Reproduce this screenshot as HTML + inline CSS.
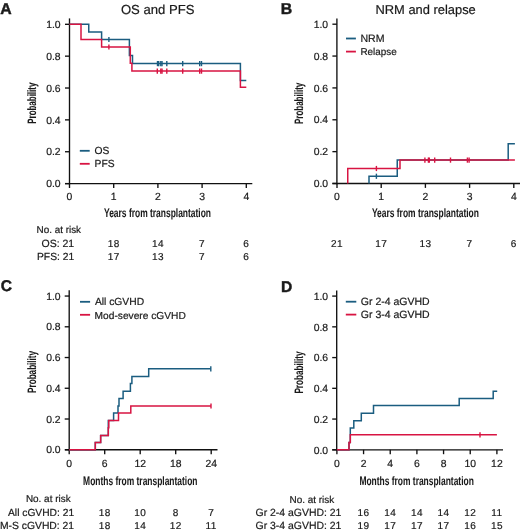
<!DOCTYPE html>
<html><head><meta charset="utf-8"><style>
html,body{margin:0;padding:0;background:#fff;}
body{width:520px;height:532px;overflow:hidden;}
svg{display:block;will-change:transform;}
svg text{font-family:"Liberation Sans", sans-serif;fill:#1a1a1a;text-rendering:geometricPrecision;stroke:#1a1a1a;stroke-width:0.2px;}
svg text.lt{stroke-width:0.45px;}
svg text.cd{stroke-width:0.05px;}
</style></head><body>
<svg width="520" height="532" viewBox="0 0 520 532">
<rect width="520" height="532" fill="#fff"/>
<line x1="69.5" y1="18.4" x2="69.5" y2="184.275" stroke="#111" stroke-width="1.35"/>
<line x1="65" y1="183.6" x2="252.3" y2="183.6" stroke="#111" stroke-width="1.35"/>
<line x1="65.0" y1="183.6" x2="69.5" y2="183.6" stroke="#111" stroke-width="1.35"/>
<text x="60.6" y="187.3" font-size="10.4" text-anchor="end" font-weight="normal" >0.0</text>
<line x1="65.0" y1="151.73999999999998" x2="69.5" y2="151.73999999999998" stroke="#111" stroke-width="1.35"/>
<text x="60.6" y="155.44" font-size="10.4" text-anchor="end" font-weight="normal" >0.2</text>
<line x1="65.0" y1="119.88" x2="69.5" y2="119.88" stroke="#111" stroke-width="1.35"/>
<text x="60.6" y="123.58" font-size="10.4" text-anchor="end" font-weight="normal" >0.4</text>
<line x1="65.0" y1="88.01999999999997" x2="69.5" y2="88.01999999999997" stroke="#111" stroke-width="1.35"/>
<text x="60.6" y="91.72" font-size="10.4" text-anchor="end" font-weight="normal" >0.6</text>
<line x1="65.0" y1="56.15999999999998" x2="69.5" y2="56.15999999999998" stroke="#111" stroke-width="1.35"/>
<text x="60.6" y="59.86" font-size="10.4" text-anchor="end" font-weight="normal" >0.8</text>
<line x1="65.0" y1="24.299999999999983" x2="69.5" y2="24.299999999999983" stroke="#111" stroke-width="1.35"/>
<text x="60.6" y="28.0" font-size="10.4" text-anchor="end" font-weight="normal" >1.0</text>
<line x1="69.5" y1="183.6" x2="69.5" y2="188.0" stroke="#111" stroke-width="1.35"/>
<text x="69.5" y="200.1" font-size="10.4" text-anchor="middle" font-weight="normal" >0</text>
<line x1="113.7" y1="183.6" x2="113.7" y2="188.0" stroke="#111" stroke-width="1.35"/>
<text x="113.7" y="200.1" font-size="10.4" text-anchor="middle" font-weight="normal" >1</text>
<line x1="157.9" y1="183.6" x2="157.9" y2="188.0" stroke="#111" stroke-width="1.35"/>
<text x="157.9" y="200.1" font-size="10.4" text-anchor="middle" font-weight="normal" >2</text>
<line x1="202.10000000000002" y1="183.6" x2="202.10000000000002" y2="188.0" stroke="#111" stroke-width="1.35"/>
<text x="202.10000000000002" y="200.1" font-size="10.4" text-anchor="middle" font-weight="normal" >3</text>
<line x1="246.3" y1="183.6" x2="246.3" y2="188.0" stroke="#111" stroke-width="1.35"/>
<text x="246.3" y="200.1" font-size="10.4" text-anchor="middle" font-weight="normal" >4</text>
<line x1="336.9" y1="18.4" x2="336.9" y2="184.175" stroke="#111" stroke-width="1.35"/>
<line x1="332.4" y1="183.5" x2="520.5" y2="183.5" stroke="#111" stroke-width="1.35"/>
<line x1="332.4" y1="183.5" x2="336.9" y2="183.5" stroke="#111" stroke-width="1.35"/>
<text x="328.1" y="187.2" font-size="10.4" text-anchor="end" font-weight="normal" >0.0</text>
<line x1="332.4" y1="151.64" x2="336.9" y2="151.64" stroke="#111" stroke-width="1.35"/>
<text x="328.1" y="155.34" font-size="10.4" text-anchor="end" font-weight="normal" >0.2</text>
<line x1="332.4" y1="119.78" x2="336.9" y2="119.78" stroke="#111" stroke-width="1.35"/>
<text x="328.1" y="123.48" font-size="10.4" text-anchor="end" font-weight="normal" >0.4</text>
<line x1="332.4" y1="87.91999999999997" x2="336.9" y2="87.91999999999997" stroke="#111" stroke-width="1.35"/>
<text x="328.1" y="91.62" font-size="10.4" text-anchor="end" font-weight="normal" >0.6</text>
<line x1="332.4" y1="56.05999999999999" x2="336.9" y2="56.05999999999999" stroke="#111" stroke-width="1.35"/>
<text x="328.1" y="59.76" font-size="10.4" text-anchor="end" font-weight="normal" >0.8</text>
<line x1="332.4" y1="24.19999999999999" x2="336.9" y2="24.19999999999999" stroke="#111" stroke-width="1.35"/>
<text x="328.1" y="27.9" font-size="10.4" text-anchor="end" font-weight="normal" >1.0</text>
<line x1="337.0" y1="183.5" x2="337.0" y2="187.9" stroke="#111" stroke-width="1.35"/>
<text x="337.0" y="200.1" font-size="10.4" text-anchor="middle" font-weight="normal" >0</text>
<line x1="381.2" y1="183.5" x2="381.2" y2="187.9" stroke="#111" stroke-width="1.35"/>
<text x="381.2" y="200.1" font-size="10.4" text-anchor="middle" font-weight="normal" >1</text>
<line x1="425.4" y1="183.5" x2="425.4" y2="187.9" stroke="#111" stroke-width="1.35"/>
<text x="425.4" y="200.1" font-size="10.4" text-anchor="middle" font-weight="normal" >2</text>
<line x1="469.6" y1="183.5" x2="469.6" y2="187.9" stroke="#111" stroke-width="1.35"/>
<text x="469.6" y="200.1" font-size="10.4" text-anchor="middle" font-weight="normal" >3</text>
<line x1="513.8" y1="183.5" x2="513.8" y2="187.9" stroke="#111" stroke-width="1.35"/>
<text x="513.8" y="200.1" font-size="10.4" text-anchor="middle" font-weight="normal" >4</text>
<line x1="69.2" y1="290.2" x2="69.2" y2="450.425" stroke="#111" stroke-width="1.35"/>
<line x1="65" y1="449.75" x2="217.5" y2="449.75" stroke="#111" stroke-width="1.35"/>
<line x1="64.7" y1="449.75" x2="69.2" y2="449.75" stroke="#111" stroke-width="1.35"/>
<text x="60.6" y="453.45" font-size="10.4" text-anchor="end" font-weight="normal" >0.0</text>
<line x1="64.7" y1="419.01" x2="69.2" y2="419.01" stroke="#111" stroke-width="1.35"/>
<text x="60.6" y="422.71" font-size="10.4" text-anchor="end" font-weight="normal" >0.2</text>
<line x1="64.7" y1="388.27" x2="69.2" y2="388.27" stroke="#111" stroke-width="1.35"/>
<text x="60.6" y="391.97" font-size="10.4" text-anchor="end" font-weight="normal" >0.4</text>
<line x1="64.7" y1="357.53" x2="69.2" y2="357.53" stroke="#111" stroke-width="1.35"/>
<text x="60.6" y="361.23" font-size="10.4" text-anchor="end" font-weight="normal" >0.6</text>
<line x1="64.7" y1="326.79" x2="69.2" y2="326.79" stroke="#111" stroke-width="1.35"/>
<text x="60.6" y="330.49" font-size="10.4" text-anchor="end" font-weight="normal" >0.8</text>
<line x1="64.7" y1="296.05" x2="69.2" y2="296.05" stroke="#111" stroke-width="1.35"/>
<text x="60.6" y="299.75" font-size="10.4" text-anchor="end" font-weight="normal" >1.0</text>
<line x1="69.2" y1="449.75" x2="69.2" y2="454.15" stroke="#111" stroke-width="1.35"/>
<text x="69.2" y="466.8" font-size="10.4" text-anchor="middle" font-weight="normal" >0</text>
<line x1="104.7002" y1="449.75" x2="104.7002" y2="454.15" stroke="#111" stroke-width="1.35"/>
<text x="104.7002" y="466.8" font-size="10.4" text-anchor="middle" font-weight="normal" >6</text>
<line x1="140.2004" y1="449.75" x2="140.2004" y2="454.15" stroke="#111" stroke-width="1.35"/>
<text x="140.2004" y="466.8" font-size="10.4" text-anchor="middle" font-weight="normal" >12</text>
<line x1="175.7006" y1="449.75" x2="175.7006" y2="454.15" stroke="#111" stroke-width="1.35"/>
<text x="175.7006" y="466.8" font-size="10.4" text-anchor="middle" font-weight="normal" >18</text>
<line x1="211.20080000000002" y1="449.75" x2="211.20080000000002" y2="454.15" stroke="#111" stroke-width="1.35"/>
<text x="211.20080000000002" y="466.8" font-size="10.4" text-anchor="middle" font-weight="normal" >24</text>
<line x1="336.7" y1="290.5" x2="336.7" y2="450.475" stroke="#111" stroke-width="1.35"/>
<line x1="332.2" y1="449.8" x2="503" y2="449.8" stroke="#111" stroke-width="1.35"/>
<line x1="332.2" y1="449.8" x2="336.7" y2="449.8" stroke="#111" stroke-width="1.35"/>
<text x="328.1" y="453.5" font-size="10.4" text-anchor="end" font-weight="normal" >0.0</text>
<line x1="332.2" y1="419.06" x2="336.7" y2="419.06" stroke="#111" stroke-width="1.35"/>
<text x="328.1" y="422.76" font-size="10.4" text-anchor="end" font-weight="normal" >0.2</text>
<line x1="332.2" y1="388.32" x2="336.7" y2="388.32" stroke="#111" stroke-width="1.35"/>
<text x="328.1" y="392.02" font-size="10.4" text-anchor="end" font-weight="normal" >0.4</text>
<line x1="332.2" y1="357.58" x2="336.7" y2="357.58" stroke="#111" stroke-width="1.35"/>
<text x="328.1" y="361.28" font-size="10.4" text-anchor="end" font-weight="normal" >0.6</text>
<line x1="332.2" y1="326.84000000000003" x2="336.7" y2="326.84000000000003" stroke="#111" stroke-width="1.35"/>
<text x="328.1" y="330.54" font-size="10.4" text-anchor="end" font-weight="normal" >0.8</text>
<line x1="332.2" y1="296.1" x2="336.7" y2="296.1" stroke="#111" stroke-width="1.35"/>
<text x="328.1" y="299.8" font-size="10.4" text-anchor="end" font-weight="normal" >1.0</text>
<line x1="336.9" y1="449.8" x2="336.9" y2="454.2" stroke="#111" stroke-width="1.35"/>
<text x="336.9" y="467.0" font-size="10.4" text-anchor="middle" font-weight="normal" >0</text>
<line x1="363.566" y1="449.8" x2="363.566" y2="454.2" stroke="#111" stroke-width="1.35"/>
<text x="363.566" y="467.0" font-size="10.4" text-anchor="middle" font-weight="normal" >2</text>
<line x1="390.23199999999997" y1="449.8" x2="390.23199999999997" y2="454.2" stroke="#111" stroke-width="1.35"/>
<text x="390.23199999999997" y="467.0" font-size="10.4" text-anchor="middle" font-weight="normal" >4</text>
<line x1="416.89799999999997" y1="449.8" x2="416.89799999999997" y2="454.2" stroke="#111" stroke-width="1.35"/>
<text x="416.89799999999997" y="467.0" font-size="10.4" text-anchor="middle" font-weight="normal" >6</text>
<line x1="443.56399999999996" y1="449.8" x2="443.56399999999996" y2="454.2" stroke="#111" stroke-width="1.35"/>
<text x="443.56399999999996" y="467.0" font-size="10.4" text-anchor="middle" font-weight="normal" >8</text>
<line x1="470.23" y1="449.8" x2="470.23" y2="454.2" stroke="#111" stroke-width="1.35"/>
<text x="470.23" y="467.0" font-size="10.4" text-anchor="middle" font-weight="normal" >10</text>
<line x1="496.89599999999996" y1="449.8" x2="496.89599999999996" y2="454.2" stroke="#111" stroke-width="1.35"/>
<text x="496.89599999999996" y="467.0" font-size="10.4" text-anchor="middle" font-weight="normal" >12</text>
<text x="0.2" y="13.9" font-size="15.8" text-anchor="start" font-weight="bold" class="lt">A</text>
<text x="280.7" y="13.9" font-size="15.8" text-anchor="start" font-weight="bold" class="lt">B</text>
<text x="0.8" y="291.3" font-size="15.6" text-anchor="start" font-weight="bold" class="lt">C</text>
<text x="280.9" y="291.5" font-size="15.6" text-anchor="start" font-weight="bold" class="lt">D</text>
<text x="157.7" y="14.4" font-size="13.1" text-anchor="middle" font-weight="normal" >OS and PFS</text>
<text x="425.6" y="14.3" font-size="12.9" text-anchor="middle" font-weight="normal" >NRM and relapse</text>
<text x="157.5" y="216.7" font-size="12.2" text-anchor="middle" textLength="107" lengthAdjust="spacingAndGlyphs" font-weight="bold" class="cd">Years from transplantation</text>
<text x="425.4" y="216.5" font-size="12.2" text-anchor="middle" textLength="107" lengthAdjust="spacingAndGlyphs" font-weight="bold" class="cd">Years from transplantation</text>
<text x="140.3" y="485.2" font-size="12.2" text-anchor="middle" textLength="114.4" lengthAdjust="spacingAndGlyphs" font-weight="bold" class="cd">Months from transplantation</text>
<text x="416.6" y="485.2" font-size="12.2" text-anchor="middle" textLength="114.4" lengthAdjust="spacingAndGlyphs" font-weight="bold" class="cd">Months from transplantation</text>
<text transform="translate(35.5,103.2) rotate(-90)" x="0" y="0" font-size="12.2" text-anchor="middle" textLength="41" lengthAdjust="spacingAndGlyphs" font-weight="bold" class="cd">Probability</text>
<text transform="translate(303.3,103.4) rotate(-90)" x="0" y="0" font-size="12.2" text-anchor="middle" textLength="41.3" lengthAdjust="spacingAndGlyphs" font-weight="bold" class="cd">Probability</text>
<text transform="translate(35.8,371.9) rotate(-90)" x="0" y="0" font-size="12.2" text-anchor="middle" textLength="42" lengthAdjust="spacingAndGlyphs" font-weight="bold" class="cd">Probability</text>
<text transform="translate(303.3,372.6) rotate(-90)" x="0" y="0" font-size="12.2" text-anchor="middle" textLength="42" lengthAdjust="spacingAndGlyphs" font-weight="bold" class="cd">Probability</text>
<path d="M69.5,24.3 H88.75 V32 H101.6 V39.5 H129.4 V55.5 H132.5 V63.6 H240.4 V80.4 H246.3" fill="none" stroke="#1b5d80" stroke-width="1.5" stroke-linejoin="miter" stroke-linecap="butt"/>
<path d="M69.5,24.3 H81 V39.5 H101.6 V47.0 H130.3 V63.3 H131.9 V71.1 H240.4 V87.25 H246.3" fill="none" stroke="#d81442" stroke-width="1.5" stroke-linejoin="miter" stroke-linecap="butt"/>
<line x1="108.9" y1="36.9" x2="108.9" y2="42.1" stroke="#1b5d80" stroke-width="1.4"/>
<line x1="157.5" y1="61.0" x2="157.5" y2="66.2" stroke="#1b5d80" stroke-width="1.4"/>
<line x1="158.7" y1="61.0" x2="158.7" y2="66.2" stroke="#1b5d80" stroke-width="1.4"/>
<line x1="160.8" y1="61.0" x2="160.8" y2="66.2" stroke="#1b5d80" stroke-width="1.4"/>
<line x1="162" y1="61.0" x2="162" y2="66.2" stroke="#1b5d80" stroke-width="1.4"/>
<line x1="166.8" y1="61.0" x2="166.8" y2="66.2" stroke="#1b5d80" stroke-width="1.4"/>
<line x1="182.7" y1="61.0" x2="182.7" y2="66.2" stroke="#1b5d80" stroke-width="1.4"/>
<line x1="199.7" y1="61.0" x2="199.7" y2="66.2" stroke="#1b5d80" stroke-width="1.4"/>
<line x1="201.5" y1="61.0" x2="201.5" y2="66.2" stroke="#1b5d80" stroke-width="1.4"/>
<line x1="108.9" y1="44.4" x2="108.9" y2="49.6" stroke="#d81442" stroke-width="1.4"/>
<line x1="157.3" y1="68.5" x2="157.3" y2="73.69999999999999" stroke="#d81442" stroke-width="1.4"/>
<line x1="160.8" y1="68.5" x2="160.8" y2="73.69999999999999" stroke="#d81442" stroke-width="1.4"/>
<line x1="162" y1="68.5" x2="162" y2="73.69999999999999" stroke="#d81442" stroke-width="1.4"/>
<line x1="166.8" y1="68.5" x2="166.8" y2="73.69999999999999" stroke="#d81442" stroke-width="1.4"/>
<line x1="182.7" y1="68.5" x2="182.7" y2="73.69999999999999" stroke="#d81442" stroke-width="1.4"/>
<line x1="199.7" y1="68.5" x2="199.7" y2="73.69999999999999" stroke="#d81442" stroke-width="1.4"/>
<line x1="201.5" y1="68.5" x2="201.5" y2="73.69999999999999" stroke="#d81442" stroke-width="1.4"/>
<line x1="79.8" y1="150.8" x2="89.7" y2="150.8" stroke="#1b5d80" stroke-width="1.8"/>
<line x1="79.8" y1="163.8" x2="89.7" y2="163.8" stroke="#d81442" stroke-width="1.8"/>
<text x="94.6" y="154.4" font-size="10.3" text-anchor="start" font-weight="normal" >OS</text>
<text x="94.6" y="167.1" font-size="10.3" text-anchor="start" font-weight="normal" >PFS</text>
<path d="M369,183.5 V176.25 H397.25 V160.0 H508.2 V143.8 H514.9" fill="none" stroke="#1b5d80" stroke-width="1.5" stroke-linejoin="miter" stroke-linecap="butt"/>
<path d="M347.75,183.5 V168.5 H400 V160.1 H514.9" fill="none" stroke="#d81442" stroke-width="1.5" stroke-linejoin="miter" stroke-linecap="butt"/>
<line x1="376.4" y1="173.65" x2="376.4" y2="178.85" stroke="#1b5d80" stroke-width="1.4"/>
<line x1="376.4" y1="165.9" x2="376.4" y2="171.1" stroke="#d81442" stroke-width="1.4"/>
<line x1="424.9" y1="157.5" x2="424.9" y2="162.7" stroke="#d81442" stroke-width="1.4"/>
<line x1="428.4" y1="157.5" x2="428.4" y2="162.7" stroke="#d81442" stroke-width="1.4"/>
<line x1="429.3" y1="157.5" x2="429.3" y2="162.7" stroke="#d81442" stroke-width="1.4"/>
<line x1="434.7" y1="157.5" x2="434.7" y2="162.7" stroke="#d81442" stroke-width="1.4"/>
<line x1="450.5" y1="157.5" x2="450.5" y2="162.7" stroke="#d81442" stroke-width="1.4"/>
<line x1="467.4" y1="157.5" x2="467.4" y2="162.7" stroke="#d81442" stroke-width="1.4"/>
<line x1="469.1" y1="157.5" x2="469.1" y2="162.7" stroke="#d81442" stroke-width="1.4"/>
<line x1="346" y1="38.5" x2="355.9" y2="38.5" stroke="#1b5d80" stroke-width="1.8"/>
<line x1="346" y1="51.6" x2="355.9" y2="51.6" stroke="#d81442" stroke-width="1.8"/>
<text x="360.4" y="42.2" font-size="10.6" text-anchor="start" font-weight="normal" >NRM</text>
<text x="360.4" y="55.1" font-size="9.9" text-anchor="start" font-weight="normal" >Relapse</text>
<path d="M69.2,449.75 H95.3 V442.6 H100.65 V435.4 H108.3 V420.6 H113.6 V413.0 H118.0 V405.9 H119.0 V398.4 H123.1 V391.2 H130.4 V383.6 H131.9 V376.6 H148.7 V368.8 H210.8" fill="none" stroke="#1b5d80" stroke-width="1.5" stroke-linejoin="miter" stroke-linecap="butt"/>
<path d="M69.2,449.75 H95.3 V442.6 H100.65 V435.4 H108.3 V427.8 H108.8 V420.6 H118.5 V413.1 H130.8 V406.0 H211" fill="none" stroke="#d81442" stroke-width="1.5" stroke-linejoin="miter" stroke-linecap="butt"/>
<line x1="210.8" y1="366.2" x2="210.8" y2="371.40000000000003" stroke="#1b5d80" stroke-width="1.4"/>
<line x1="211" y1="403.4" x2="211" y2="408.6" stroke="#d81442" stroke-width="1.4"/>
<line x1="80" y1="301.8" x2="90.1" y2="301.8" stroke="#1b5d80" stroke-width="1.8"/>
<line x1="80" y1="314.8" x2="90.1" y2="314.8" stroke="#d81442" stroke-width="1.8"/>
<text x="94.9" y="305.1" font-size="10.3" text-anchor="start" font-weight="normal" >All cGVHD</text>
<text x="94.6" y="318.5" font-size="10.2" text-anchor="start" font-weight="normal" >Mod-severe cGVHD</text>
<path d="M336.9,449.8 H349 V442.5 H350.3 V427.9 H353.8 V420.8 H361.3 V413.3 H373.5 V405.6 H459.2 V398.6 H493.2 V391.2 H497.2" fill="none" stroke="#1b5d80" stroke-width="1.5" stroke-linejoin="miter" stroke-linecap="butt"/>
<path d="M336.9,449.8 H349 V442.5 H350.3 V434.8 H496.9" fill="none" stroke="#d81442" stroke-width="1.5" stroke-linejoin="miter" stroke-linecap="butt"/>
<line x1="480" y1="432.2" x2="480" y2="437.40000000000003" stroke="#d81442" stroke-width="1.4"/>
<line x1="345.8" y1="301.7" x2="356.3" y2="301.7" stroke="#1b5d80" stroke-width="1.8"/>
<line x1="345.8" y1="314.6" x2="356.3" y2="314.6" stroke="#d81442" stroke-width="1.8"/>
<text x="360.8" y="304.8" font-size="10.5" text-anchor="start" font-weight="normal" >Gr 2-4 aGVHD</text>
<text x="360.8" y="317.9" font-size="10.5" text-anchor="start" font-weight="normal" >Gr 3-4 aGVHD</text>
<text x="36.6" y="233.3" font-size="9.9" text-anchor="start" font-weight="normal" >No. at risk</text>
<text x="74.2" y="246.6" font-size="10.5" text-anchor="end" font-weight="normal" >OS: 21</text>
<text x="74.2" y="259.9" font-size="10.3" text-anchor="end" font-weight="normal" >PFS: 21</text>
<text x="113.7" y="246.6" font-size="10.0" text-anchor="middle" font-weight="normal" letter-spacing="0.4">18</text>
<text x="157.9" y="246.6" font-size="10.0" text-anchor="middle" font-weight="normal" letter-spacing="0.4">14</text>
<text x="202.1" y="246.6" font-size="10.0" text-anchor="middle" font-weight="normal" letter-spacing="0.4">7</text>
<text x="246.3" y="246.6" font-size="10.0" text-anchor="middle" font-weight="normal" letter-spacing="0.4">6</text>
<text x="113.7" y="259.9" font-size="10.0" text-anchor="middle" font-weight="normal" letter-spacing="0.4">17</text>
<text x="157.9" y="259.9" font-size="10.0" text-anchor="middle" font-weight="normal" letter-spacing="0.4">13</text>
<text x="202.1" y="259.9" font-size="10.0" text-anchor="middle" font-weight="normal" letter-spacing="0.4">7</text>
<text x="246.3" y="259.9" font-size="10.0" text-anchor="middle" font-weight="normal" letter-spacing="0.4">6</text>
<text x="337.0" y="247.2" font-size="10.0" text-anchor="middle" font-weight="normal" letter-spacing="0.4">21</text>
<text x="381.2" y="247.2" font-size="10.0" text-anchor="middle" font-weight="normal" letter-spacing="0.4">17</text>
<text x="425.4" y="247.2" font-size="10.0" text-anchor="middle" font-weight="normal" letter-spacing="0.4">13</text>
<text x="469.6" y="247.2" font-size="10.0" text-anchor="middle" font-weight="normal" letter-spacing="0.4">7</text>
<text x="513.8" y="247.2" font-size="10.0" text-anchor="middle" font-weight="normal" letter-spacing="0.4">6</text>
<text x="25.9" y="502.3" font-size="9.95" text-anchor="start" font-weight="normal" >No. at risk</text>
<text x="74.1" y="515.7" font-size="10.25" text-anchor="end" font-weight="normal" >All cGVHD: 21</text>
<text x="74.1" y="529.2" font-size="10.35" text-anchor="end" font-weight="normal" >M-S cGVHD: 21</text>
<text x="104.7002" y="515.7" font-size="10.0" text-anchor="middle" font-weight="normal" letter-spacing="0.4">18</text>
<text x="140.2004" y="515.7" font-size="10.0" text-anchor="middle" font-weight="normal" letter-spacing="0.4">10</text>
<text x="175.7006" y="515.7" font-size="10.0" text-anchor="middle" font-weight="normal" letter-spacing="0.4">8</text>
<text x="211.20080000000002" y="515.7" font-size="10.0" text-anchor="middle" font-weight="normal" letter-spacing="0.4">7</text>
<text x="104.7002" y="529.2" font-size="10.0" text-anchor="middle" font-weight="normal" letter-spacing="0.4">18</text>
<text x="140.2004" y="529.2" font-size="10.0" text-anchor="middle" font-weight="normal" letter-spacing="0.4">14</text>
<text x="175.7006" y="529.2" font-size="10.0" text-anchor="middle" font-weight="normal" letter-spacing="0.4">12</text>
<text x="211.20080000000002" y="529.2" font-size="10.0" text-anchor="middle" font-weight="normal" letter-spacing="0.4">11</text>
<text x="289.5" y="502.7" font-size="9.95" text-anchor="start" font-weight="normal" >No. at risk</text>
<text x="341.4" y="515.7" font-size="10.45" text-anchor="end" font-weight="normal" >Gr 2-4 aGVHD: 21</text>
<text x="341.4" y="529.0" font-size="10.45" text-anchor="end" font-weight="normal" >Gr 3-4 aGVHD: 21</text>
<text x="363.566" y="515.7" font-size="10.0" text-anchor="middle" font-weight="normal" letter-spacing="0.4">16</text>
<text x="390.23199999999997" y="515.7" font-size="10.0" text-anchor="middle" font-weight="normal" letter-spacing="0.4">14</text>
<text x="416.89799999999997" y="515.7" font-size="10.0" text-anchor="middle" font-weight="normal" letter-spacing="0.4">14</text>
<text x="443.56399999999996" y="515.7" font-size="10.0" text-anchor="middle" font-weight="normal" letter-spacing="0.4">14</text>
<text x="470.23" y="515.7" font-size="10.0" text-anchor="middle" font-weight="normal" letter-spacing="0.4">12</text>
<text x="496.89599999999996" y="515.7" font-size="10.0" text-anchor="middle" font-weight="normal" letter-spacing="0.4">11</text>
<text x="363.566" y="529.0" font-size="10.0" text-anchor="middle" font-weight="normal" letter-spacing="0.4">19</text>
<text x="390.23199999999997" y="529.0" font-size="10.0" text-anchor="middle" font-weight="normal" letter-spacing="0.4">17</text>
<text x="416.89799999999997" y="529.0" font-size="10.0" text-anchor="middle" font-weight="normal" letter-spacing="0.4">17</text>
<text x="443.56399999999996" y="529.0" font-size="10.0" text-anchor="middle" font-weight="normal" letter-spacing="0.4">17</text>
<text x="470.23" y="529.0" font-size="10.0" text-anchor="middle" font-weight="normal" letter-spacing="0.4">16</text>
<text x="496.89599999999996" y="529.0" font-size="10.0" text-anchor="middle" font-weight="normal" letter-spacing="0.4">15</text>
</svg>
</body></html>
